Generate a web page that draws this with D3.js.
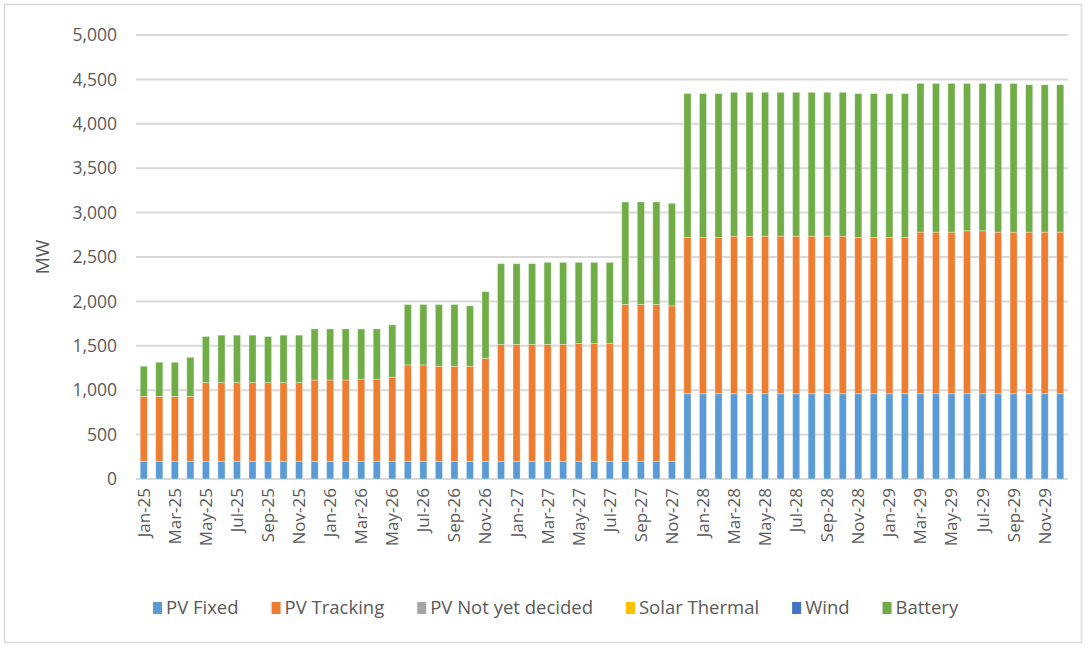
<!DOCTYPE html>
<html>
<head>
<meta charset="utf-8">
<script src="https://cdn.jsdelivr.net/npm/d3@7"></script>
<style>
  body { margin: 0; background: #fff; }
  text { font-family: "Open Sans", sans-serif; fill: #595959; }
</style>
</head>
<body>
<div id="chart"></div>
<script>
// months Jan-25 .. Dec-29
let monthNames = ["Jan", "Feb", "Mar", "Apr", "May", "Jun", "Jul", "Aug", "Sep", "Oct", "Nov", "Dec"];
let years = ["25", "26", "27", "28", "29"];
let months = [];
years.forEach(function(yy) { monthNames.forEach(function(m) { months.push(m + "-" + yy); }); });

let seriesNames = ["PV Fixed", "PV Tracking", "PV Not yet decided", "Solar Thermal", "Wind", "Battery"];
let seriesColours = ["#5b9bd5", "#ed7d31", "#a5a5a5", "#ffc000", "#4472c4", "#70ad47"];

let pvFixed = [
  200, 200, 200, 200, 200, 200, 200, 200, 200, 200, 200, 200,
  200, 200, 200, 200, 200, 200, 200, 200, 200, 200, 200, 200,
  200, 200, 200, 200, 200, 200, 200, 200, 200, 200, 200, 960,
  960, 960, 960, 960, 960, 960, 960, 960, 960, 960, 960, 960,
  960, 960, 960, 960, 960, 960, 960, 960, 960, 960, 960, 960
];
let pvTracking = [
  730, 730, 730, 730, 885, 885, 885, 885, 885, 885, 885, 915,
  915, 915, 925, 925, 945, 1085, 1085, 1070, 1070, 1070, 1160, 1315,
  1315, 1315, 1315, 1315, 1325, 1325, 1325, 1765, 1765, 1765, 1750, 1760,
  1760, 1760, 1775, 1775, 1775, 1775, 1775, 1775, 1775, 1775, 1760, 1760,
  1760, 1760, 1820, 1820, 1820, 1835, 1835, 1820, 1820, 1820, 1820, 1820
];
let pvUndecided = months.map(function() { return 0; });
let solarThermal = months.map(function() { return 0; });
let wind = months.map(function() { return 0; });
let battery = [
  340, 385, 385, 440, 520, 535, 535, 535, 520, 535, 535, 575,
  575, 575, 565, 565, 590, 680, 680, 695, 695, 680, 750, 910,
  910, 910, 925, 925, 915, 915, 915, 1155, 1155, 1155, 1155, 1620,
  1620, 1620, 1620, 1620, 1620, 1620, 1620, 1620, 1620, 1620, 1620, 1620,
  1620, 1620, 1675, 1675, 1675, 1660, 1660, 1675, 1675, 1660, 1660, 1660
];
let yTicks = [0, 500, 1000, 1500, 2000, 2500, 3000, 3500, 4000, 4500, 5000];

let seriesValues = [pvFixed, pvTracking, pvUndecided, solarThermal, wind, battery];

var W = 1086, H = 647;
var plotLeft = 136, plotRight = 1068, plotTop = 35, plotBottom = 479;

var rows = months.map(function(m, i) {
  var r = { month: m };
  seriesNames.forEach(function(s, k) { r[s] = seriesValues[k][i]; });
  return r;
});

var svg = d3.select("#chart").append("svg")
  .attr("width", W).attr("height", H);

// outer border
svg.append("rect")
  .attr("x", 4.5).attr("y", 4.5)
  .attr("width", W - 9).attr("height", H - 9)
  .attr("fill", "#fff").attr("stroke", "#d9d9d9").attr("stroke-width", 1.5);

var x = d3.scaleBand().domain(months).range([plotLeft, plotRight]).paddingInner(0.54).paddingOuter(0.27);
var y = d3.scaleLinear().domain([0, 5000]).range([plotBottom, plotTop]);

// gridlines
svg.append("g").selectAll("line")
  .data(yTicks)
  .enter().append("line")
  .attr("x1", plotLeft).attr("x2", plotRight)
  .attr("y1", function(d) { return y(d); })
  .attr("y2", function(d) { return y(d); })
  .attr("stroke", "#d9d9d9").attr("stroke-width", 2);

// y axis labels
var yAxis = svg.append("g")
  .attr("transform", "translate(" + (plotLeft - 19) + ",0)")
  .call(d3.axisLeft(y).tickValues(yTicks).tickSize(0).tickFormat(d3.format(",")));
yAxis.select(".domain").remove();
yAxis.selectAll("text").attr("font-size", 17.5).attr("fill", "#595959").attr("x", 0);

svg.append("text")
  .attr("transform", "translate(49," + ((plotTop + plotBottom) / 2) + ") rotate(-90)")
  .attr("text-anchor", "middle")
  .attr("font-size", 19)
  .text("MW");

// stacked bars
var stack = d3.stack().keys(seriesNames);
var layers = stack(rows);

svg.append("g").selectAll("g")
  .data(layers)
  .enter().append("g")
  .attr("fill", function(d, i) { return seriesColours[i]; })
  .selectAll("rect")
  .data(function(d) { return d.filter(function(p) { return p[1] > p[0]; }); })
  .enter().append("rect")
  .attr("x", function(d) { return x(d.data.month); })
  .attr("width", x.bandwidth())
  .attr("y", function(d) { return y(d[1]); })
  .attr("height", function(d) { return y(d[0]) - y(d[1]); })
  .attr("stroke", "rgba(255,255,255,0.45)")
  .attr("stroke-width", 0.8);

// x axis labels (every other month)
var xAxis = svg.append("g")
  .attr("transform", "translate(0," + (plotBottom + 9) + ")")
  .call(d3.axisBottom(x).tickSize(0).tickValues(months.filter(function(m, i) { return i % 2 === 0; })));
xAxis.select(".domain").remove();
xAxis.selectAll("text")
  .attr("font-size", 17)
  .attr("fill", "#595959")
  .attr("text-anchor", "end")
  .attr("dy", "0.35em")
  .attr("x", 0)
  .attr("y", 0)
  .attr("transform", "rotate(-90)");

// legend
var legend = svg.append("g").attr("transform", "translate(153,608)");
var lx = 0;
seriesNames.forEach(function(s, i) {
  var g = legend.append("g").attr("transform", "translate(" + lx + ",0)");
  g.append("rect").attr("x", 0).attr("y", -6).attr("width", 9).attr("height", 12)
    .attr("fill", seriesColours[i]);
  var t = g.append("text").attr("x", 13).attr("dy", "0.35em")
    .attr("font-size", 18.5).text(s);
  lx += 13 + t.node().getComputedTextLength() + 33;
});
</script>
</body>
</html>
